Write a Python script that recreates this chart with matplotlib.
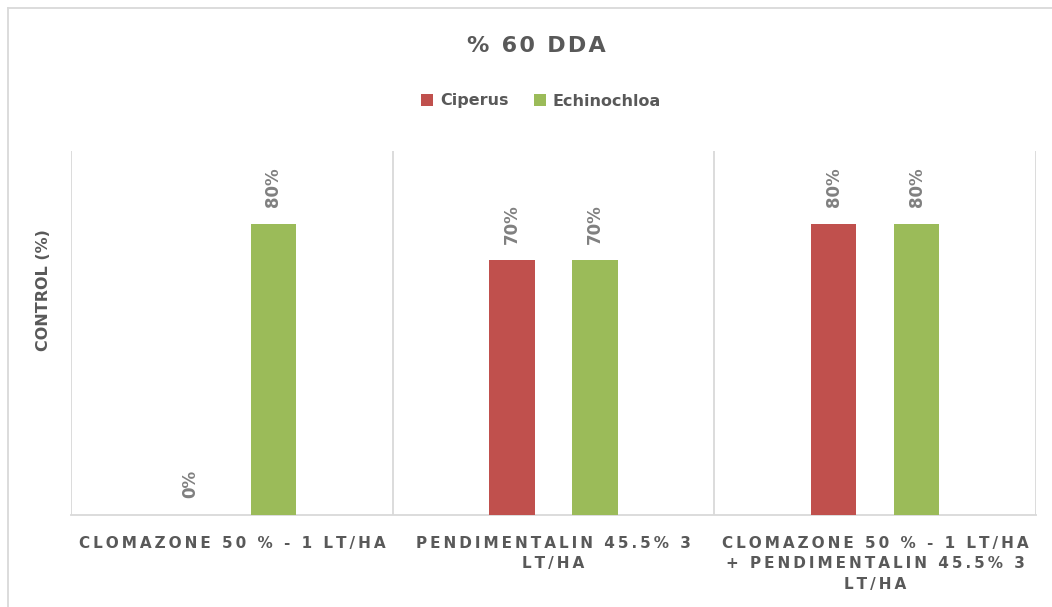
import matplotlib
matplotlib.use("Agg")
import matplotlib.pyplot as plt
import numpy as np

categories = ["CLOMAZONE 50 % - 1 LT/HA", "PENDIMENTALIN 45.5% 3\nLT/HA",
              "CLOMAZONE 50 % - 1 LT/HA\n+ PENDIMENTALIN 45.5% 3\nLT/HA"]
series_names = ["Ciperus", "Echinochloa"]
ciperus = [0.0, 0.70, 0.80]
echinochloa = [0.80, 0.70, 0.80]
colors = ["#C0504D", "#9BBB59"]
title = "% 60 DDA"
ylabel = "CONTROL (%)"

plt.rcParams['font.family'] = ['DejaVu Sans']

def spaced(s, sep="\u2009"):
    return "\n".join(sep.join(list(line)) for line in s.split("\n"))

W, H = 1052, 607
fig = plt.figure(figsize=(W / 100, H / 100), dpi=100)
ax = fig.add_axes([71 / W, 1 - 515 / H, (1036 - 71) / W, (515 - 151) / H])

x = np.arange(len(categories))
bw = 0.14
off = 0.129
b1 = ax.bar(x - off, ciperus, bw, color=colors[0], label=series_names[0], zorder=3)
b2 = ax.bar(x + off, echinochloa, bw, color=colors[1], label=series_names[1], zorder=3)

for bars, vals in ((b1, ciperus), (b2, echinochloa)):
    for rect, v in zip(bars, vals):
        ax.annotate(f"{v * 100:.0f}%", (rect.get_x() + rect.get_width() / 2, v),
                    xytext=(0, 12), textcoords="offset points", rotation=90,
                    ha="center", va="bottom", color="#808080", fontsize=12,
                    fontweight="bold")

ax.set_xlim(-0.5, len(categories) - 0.5)
ax.set_ylim(0, 1.0)
ax.set_yticks([])
for b in np.arange(-0.5, len(categories), 1.0):
    ax.axvline(b, color="#D9D9D9", lw=1.3, zorder=1)
for s in ("top", "right", "left"):
    ax.spines[s].set_visible(False)
ax.spines["bottom"].set_color("#D9D9D9")
ax.spines["bottom"].set_linewidth(1.3)
ax.set_xticks(x)
ax.set_xticklabels([spaced(c) for c in categories], fontsize=11, fontweight="bold",
                   color="#595959", linespacing=1.45)
ax.tick_params(axis="x", length=0, pad=15)

fig.text(43 / W, 1 - 290 / H, ylabel, rotation=90, ha="center", va="center",
         fontsize=11.5, fontweight="bold", color="#595959")
fig.text(536 / W, 1 - 46 / H, spaced(title, "\u200a"), ha="center", va="center",
         fontsize=16, fontweight="bold", color="#595959")
leg = fig.legend(loc="center", bbox_to_anchor=(541 / W, 1 - 101 / H), ncol=2,
                 frameon=False, fontsize=11.5, handlelength=0.75, handleheight=0.75,
                 columnspacing=1.6, handletextpad=0.4)
for t in leg.get_texts():
    t.set_color("#595959")
    t.set_fontweight("bold")

# outer chart border
fig.add_artist(plt.Line2D([8 / W, 8 / W], [0, 1 - 8 / H], color="#D9D9D9", lw=1.3,
                          transform=fig.transFigure))
fig.add_artist(plt.Line2D([8 / W, 1], [1 - 8 / H, 1 - 8 / H], color="#D9D9D9", lw=1.3,
                          transform=fig.transFigure))

fig.savefig("out.png", dpi=100)
